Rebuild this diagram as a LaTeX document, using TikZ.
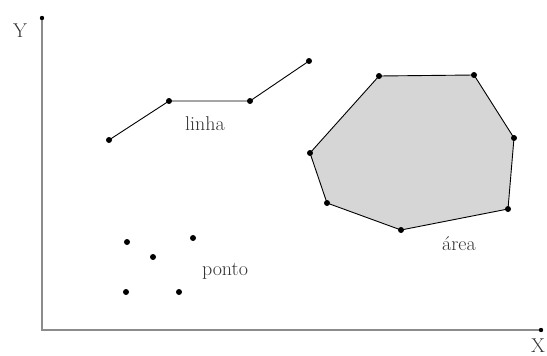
\documentclass[tikz,border=0pt]{standalone}
\usetikzlibrary{positioning}
\tikzset{
  axisline/.style={draw=black!45,line width=2pt},
  dot/.style={fill=black},
  lbl/.style={font=\fontsize{20}{22}\selectfont,text=black!80}
}
\begin{document}
\begin{tikzpicture}[x=1pt,y=-1pt]
  \useasboundingbox (0,0) rectangle (547,356);
  % axes
  \coordinate (O) at (42,330);
  \coordinate (Ytop) at (42,18);
  \coordinate (Xend) at (541,330);
  \draw[axisline] (Ytop) -- (O) -- (Xend);
  \fill[dot] (Ytop) circle (2.2);
  \fill[dot] (Xend) circle (2.2);
  \node[lbl] (ylab) at (20,31) {Y};
  \node[lbl] (xlab) at (538,346) {X};
  % linha
  \coordinate (l1) at (109,140);
  \coordinate (l2) at (169,101);
  \coordinate (l3) at (250,101);
  \coordinate (l4) at (309,61);
  \draw[line width=0.9pt] (l1) -- (l2) -- (l3) -- (l4);
  \foreach \p in {l1,l2,l3,l4} \fill[dot] (\p) circle (3);
  \node[lbl] (linha) at (205,124) {linha};
  % area
  \coordinate (a1) at (379,76);
  \coordinate (a2) at (474,75);
  \coordinate (a3) at (514,138);
  \coordinate (a4) at (508,209);
  \coordinate (a5) at (401,230);
  \coordinate (a6) at (327,203);
  \coordinate (a7) at (310,153);
  \filldraw[fill=black!16,draw=black,line width=0.9pt] (a1) -- (a2) -- (a3) -- (a4) -- (a5) -- (a6) -- (a7) -- cycle;
  \foreach \p in {a1,a2,a3,a4,a5,a6,a7} \fill[dot] (\p) circle (3);
  \node[lbl] (area) at (459,244) {área};
  % ponto
  \coordinate (p1) at (127,242);
  \coordinate (p2) at (153,257);
  \coordinate (p3) at (193,238);
  \coordinate (p4) at (126,292);
  \coordinate (p5) at (179,292);
  \foreach \p in {p1,p2,p3,p4,p5} \fill[dot] (\p) circle (3);
  \node[lbl] (ponto) at (225,271) {ponto};
\end{tikzpicture}
\end{document}
